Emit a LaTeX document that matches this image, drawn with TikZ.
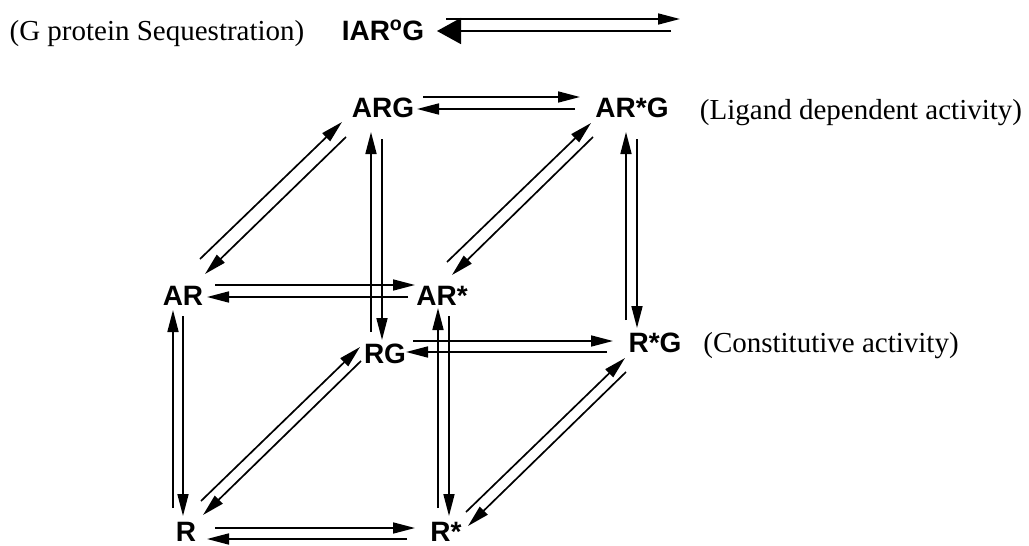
\documentclass[tikz,border=0pt]{standalone}
\usepackage{fontspec}
\setmainfont{Liberation Serif}
\newfontfamily\arialfont{Liberation Sans}
\usetikzlibrary{arrows.meta}
\begin{document}
\begin{tikzpicture}[x=1pt,y=-1pt,
  species/.style={inner sep=0pt,anchor=base,font=\arialfont\bfseries\fontsize{28}{30}\selectfont},
  note/.style={inner sep=0pt,anchor=base,font=\fontsize{29}{31}\selectfont},
  rx/.style={line width=1.7pt,-{Triangle[length=22pt,width=11pt]}},
  bigrx/.style={line width=1.7pt,-{Triangle[length=24pt,width=26pt]}}]
\useasboundingbox (0,0) rectangle (1029,546);
% species
\node[species] (IARG) at (383,40) {IAR\textsuperscript{o}G};
\node[species] (ARG) at (383,117) {ARG};
\node[species] (ARsG) at (632,117) {AR*G};
\node[species] (AR) at (183,305) {AR};
\node[species] (ARs) at (442,305) {AR*};
\node[species] (RG) at (385,363) {RG};
\node[species] (RsG) at (655,352) {R*G};
\node[species] (R) at (186,541) {R};
\node[species] (Rs) at (446,541) {R*};
% notes
\node[note] (seq) at (157,40) {(G protein Sequestration)};
\node[note] (lig) at (861,119) {(Ligand dependent activity)};
\node[note] (con) at (831,352) {(Constitutive activity)};
% free ends of the top arrow
\coordinate (topR) at (680,19);
\coordinate (topL) at (671,31);
% top equilibrium
\draw[rx] ([shift={(63,-21)}]IARG.base) -- (topR);
\draw[bigrx] (topL) -- ([shift={(54,-9)}]IARG.base);
% ARG <-> AR*G
\draw[rx] ([shift={(40,-20)}]ARG.base) -- ([shift={(-52,-20)}]ARsG.base);
\draw[rx] ([shift={(-57,-8)}]ARsG.base) -- ([shift={(34,-8)}]ARG.base);
% ARG <-> RG
\draw[rx] ([shift={(-14,-31)}]RG.base) -- ([shift={(-12,15)}]ARG.base);
\draw[rx] ([shift={(-1,22)}]ARG.base) -- ([shift={(-3,-23)}]RG.base);
% AR*G <-> R*G
\draw[rx] ([shift={(-29,-32)}]RsG.base) -- ([shift={(-6,15)}]ARsG.base);
\draw[rx] ([shift={(5,22)}]ARsG.base) -- ([shift={(-18,-24)}]RsG.base);
% AR <-> AR*
\draw[rx] ([shift={(32,-20)}]AR.base) -- ([shift={(-27,-20)}]ARs.base);
\draw[rx] ([shift={(-34,-8)}]ARs.base) -- ([shift={(24,-8)}]AR.base);
% AR <-> R
\draw[rx] ([shift={(-13,-33)}]R.base) -- ([shift={(-10,5)}]AR.base);
\draw[rx] ([shift={(0,11)}]AR.base) -- ([shift={(-3,-25)}]R.base);
% AR* <-> R*
\draw[rx] ([shift={(-8,-33)}]Rs.base) -- ([shift={(-4,3)}]ARs.base);
\draw[rx] ([shift={(7,11)}]ARs.base) -- ([shift={(3,-25)}]Rs.base);
% R <-> R*
\draw[rx] ([shift={(29,-13)}]R.base) -- ([shift={(-31,-13)}]Rs.base);
\draw[rx] ([shift={(-39,-2)}]Rs.base) -- ([shift={(21,-2)}]R.base);
% RG <-> R*G
\draw[rx] ([shift={(28,-22)}]RG.base) -- ([shift={(-42,-11)}]RsG.base);
\draw[rx] ([shift={(-48,0)}]RsG.base) -- ([shift={(21,-11)}]RG.base);
% AR <-> ARG
\draw[rx] ([shift={(17,-46)}]AR.base) -- ([shift={(-41,5)}]ARG.base);
\draw[rx] ([shift={(-37,20)}]ARG.base) -- ([shift={(22,-31)}]AR.base);
% AR* <-> AR*G
\draw[rx] ([shift={(5,-43)}]ARs.base) -- ([shift={(-41,6)}]ARsG.base);
\draw[rx] ([shift={(-39,20)}]ARsG.base) -- ([shift={(10,-30)}]ARs.base);
% R <-> RG
\draw[rx] ([shift={(15,-40)}]R.base) -- ([shift={(-25,-16)}]RG.base);
\draw[rx] ([shift={(-24,-2)}]RG.base) -- ([shift={(17,-26)}]R.base);
% R* <-> R*G
\draw[rx] ([shift={(20,-29)}]Rs.base) -- ([shift={(-30,6)}]RsG.base);
\draw[rx] ([shift={(-29,20)}]RsG.base) -- ([shift={(22,-15)}]Rs.base);
\end{tikzpicture}
\end{document}
